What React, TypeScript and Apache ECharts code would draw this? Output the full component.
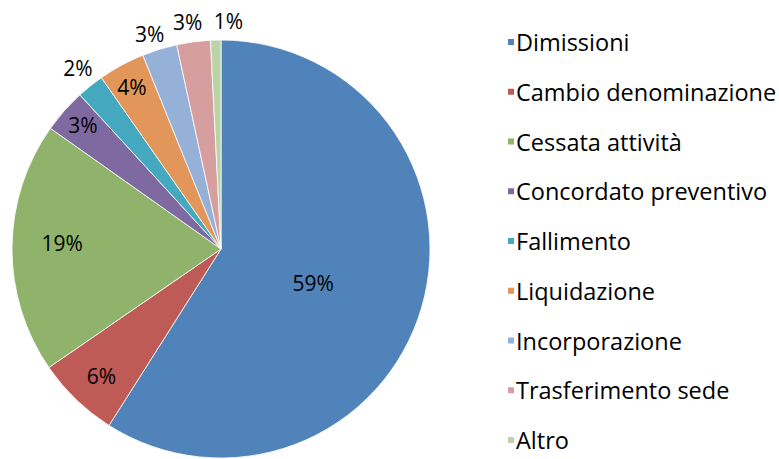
import React, { useEffect, useRef } from "react";
import * as echarts from "echarts";

const categories = [
  "Dimissioni",
  "Cambio denominazione",
  "Cessata attività",
  "Concordato preventivo",
  "Fallimento",
  "Liquidazione",
  "Incorporazione",
  "Trasferimento sede",
  "Altro",
];
const values = [59.0, 6.4, 19.4, 3.4, 2.1, 3.6, 2.7, 2.6, 0.8];
const colors = ["#5083BA", "#BF5B57", "#8FB36B", "#7F69A1", "#44A8BF", "#E3965A", "#96B1D8", "#D69E9E", "#B9D4A8"];

// label placement: distance as fraction of radius, and small angle nudge (degrees)
const labelDist = [0.47, 0.836, 0.76, 0.888, 1.105, 0.884, 1.086, 1.096, 1.09];
const labelNudge = [4, -0.7, 1.7, 0.5, 0.4, -0.4, -1.2, -0.8, 3.3];

const CX = 221;
const CY = 249;
const R = 209;

export default function App() {
  const ref = useRef<HTMLDivElement>(null);
  useEffect(() => {
    document.body.style.margin = "0";
    const chart = echarts.init(ref.current!, undefined, { renderer: "svg" });
    const total = values.reduce((a, b) => a + b, 0);
    const mids: number[] = [];
    let acc = 0;
    values.forEach((v) => {
      const a = (v / total) * 360;
      mids.push(acc + a / 2);
      acc += a;
    });
    chart.setOption({
      animation: false,
      color: colors,
      legend: {
        orient: "vertical",
        left: 506,
        top: 29,
        padding: 0,
        itemWidth: 8,
        itemHeight: 8,
        itemGap: 23.75,
        icon: "rect",
        data: categories,
        selectedMode: false,
        textStyle: { fontFamily: "Open Sans", fontSize: 23.5, color: "#000", lineHeight: 26, padding: [0, 0, 0, -4] },
      },
      series: [
        {
          type: "pie",
          center: [CX, CY],
          radius: [0, R],
          startAngle: 90,
          clockwise: true,
          avoidLabelOverlap: false,
          itemStyle: { borderColor: "#fff", borderWidth: 0.8 },
          label: {
            show: true,
            position: "inside",
            color: "#000",
            fontFamily: "Open Sans",
            fontSize: 21,
            formatter: (p: any) => Math.round(p.percent) + "%",
          },
          labelLine: { show: false },
          labelLayout: (p: any) => {
            const i = p.dataIndex;
            const ang = ((mids[i] + labelNudge[i]) * Math.PI) / 180;
            const d = labelDist[i] * R;
            return {
              x: CX + d * Math.sin(ang),
              y: CY - d * Math.cos(ang),
              align: "center",
              verticalAlign: "middle",
            };
          },
          data: categories.map((name, i) => ({ name, value: values[i] })),
        },
      ],
    });
    return () => chart.dispose();
  }, []);
  return <div ref={ref} style={{ width: 779, height: 459 }} />;
}
